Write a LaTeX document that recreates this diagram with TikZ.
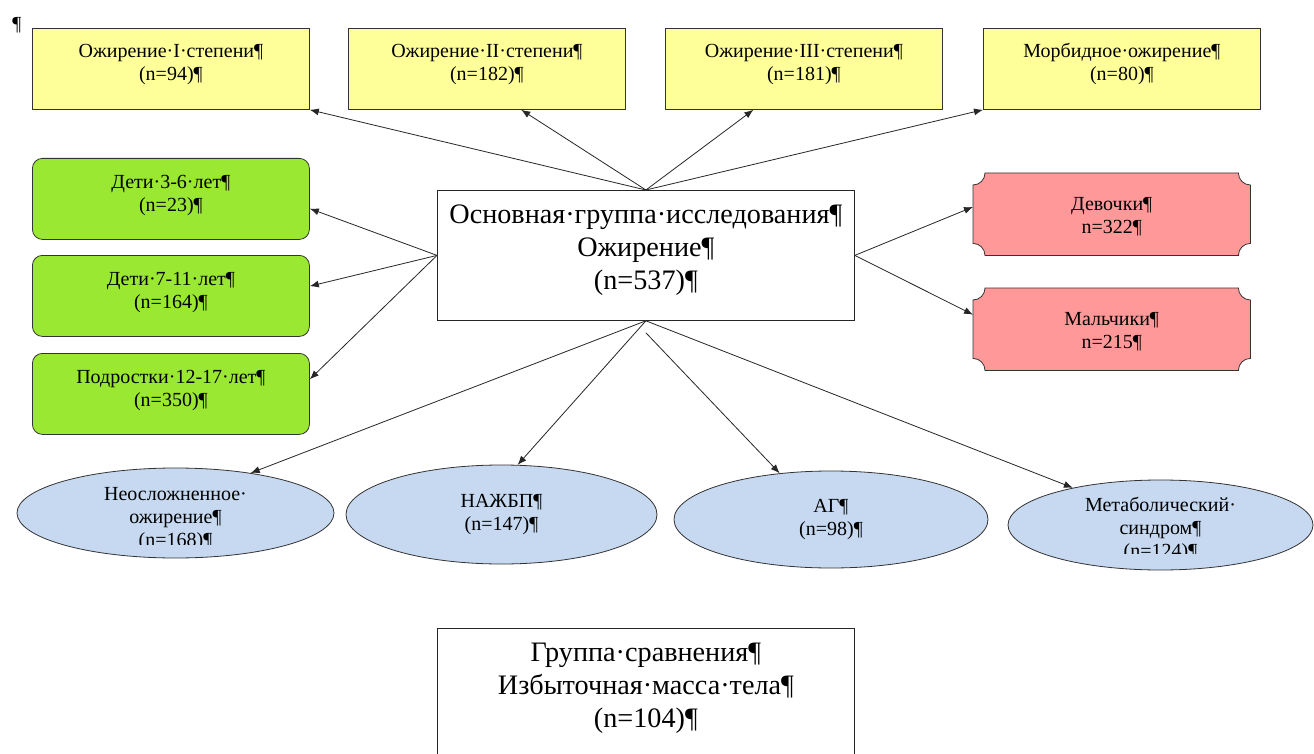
\documentclass[tikz,border=0pt]{standalone}
\usepackage{fontspec}
\setmainfont{Liberation Serif}
\usepackage{tikz}
\usetikzlibrary{arrows.meta, shapes.geometric, backgrounds}

\definecolor{obyellow}{RGB}{255,255,153}
\definecolor{agegreen}{RGB}{155,232,50}
\definecolor{sexpink}{RGB}{255,153,153}
\definecolor{ovalblue}{RGB}{198,217,240}

% lines of a box, hung from the first one
\newcommand{\lines}[1]{\begin{tabular}[t]{@{}c@{}}#1\end{tabular}}

% box with hollow corners, drawn round a node
\newcommand{\plaque}[1]{%
  \filldraw[draw=black!80, fill=sexpink, line width=0.8pt]
    ([xshift=12pt]#1.north west) -- ([xshift=-12pt]#1.north east)
    arc[start angle=180, end angle=270, radius=12pt]
    -- ([yshift=12pt]#1.south east)
    arc[start angle=90, end angle=180, radius=12pt]
    -- ([xshift=12pt]#1.south west)
    arc[start angle=0, end angle=90, radius=12pt]
    -- ([yshift=-12pt]#1.north west)
    arc[start angle=270, end angle=360, radius=12pt] -- cycle;}

\begin{document}
\begin{tikzpicture}
  [x=1pt,y=-1pt,
   every node/.style={font=\fontsize{20}{23}\selectfont},
   ybox/.style={draw=black!80, line width=0.8pt, fill=obyellow, anchor=north west,
     inner sep=0pt, minimum width=277pt, text height=29pt, text depth=52pt},
   gbox/.style={draw=black!80, line width=0.8pt, fill=agegreen, anchor=north west, rounded corners=10pt,
     inner sep=0pt, minimum width=277pt, text height=30pt, text depth=51pt},
   pbox/.style={anchor=north west, inner sep=0pt, minimum width=277pt, text height=37pt, text depth=45pt},
   mainbox/.style={draw=black!85, line width=0.8pt, fill=white, anchor=north west,
     font=\fontsize{28.2}{33}\selectfont, inner sep=0pt, minimum width=417pt, text height=33pt},
   oval/.style={ellipse, draw=black!80, line width=0.8pt, fill=ovalblue, inner sep=0pt, align=center},
   arr/.style={draw=black!85, line width=0.8pt, -{Latex[length=9pt,width=7pt]}}]

  \useasboundingbox (0,0) rectangle (1314,754);

  \node (pil) at (17,25) {¶};

  \node[ybox] (ob1) at (32,28)  {\lines{Ожирение·I·степени¶\\(n=94)¶}};
  \node[ybox] (ob2) at (348,28) {\lines{Ожирение·II·степени¶\\(n=182)¶}};
  \node[ybox] (ob3) at (665,28) {\lines{Ожирение·III·степени¶\\(n=181)¶}};
  \node[ybox] (ob4) at (983,28) {\lines{Морбидное·ожирение¶\\(n=80)¶}};

  \node[gbox] (g1) at (32,158) {\lines{Дети·3-6·лет¶\\(n=23)¶}};
  \node[gbox] (g2) at (32,255) {\lines{Дети·7-11·лет¶\\(n=164)¶}};
  \node[gbox] (g3) at (32,353) {\lines{Подростки·12-17·лет¶\\(n=350)¶}};

  \node[mainbox, text depth=97pt] (c) at (437,190) {\lines{Основная·группа·исследования¶\\Ожирение¶\\(n=537)¶}};
  \node[mainbox, text depth=107pt] (cmp) at (437,628) {\lines{Группа·сравнения¶\\Избыточная·масса·тела¶\\(n=104)¶}};

  \node[pbox] (girls) at (973,173) {\lines{Девочки¶\\n=322¶}};
  \node[pbox] (boys) at (973,288) {\lines{Мальчики¶\\n=215¶}};

  \begin{scope}[on background layer]
    \fill[white] (0,0) rectangle (1314,754);
    \plaque{girls}
    \plaque{boys}
  \end{scope}

  \node[oval, minimum width=317pt, minimum height=90pt,
    path picture={\clip ([yshift=14pt]path picture bounding box.south west) rectangle (path picture bounding box.north east);
      \node[anchor=base] (e1t) at ([yshift=-32pt]path picture bounding box.north) {\lines{Неосложненное·\\ожирение¶\\(n=168)¶}};}]
    (e1) at (175.5,513) {};
  \node[oval, minimum width=311pt, minimum height=99pt] (e2) at (501.5,514.5) {НАЖБП¶\\(n=147)¶};
  \node[oval, minimum width=314pt, minimum height=97pt] (e3) at (831,519.5) {АГ¶\\(n=98)¶};
  \node[oval, minimum width=305pt, minimum height=90pt,
    path picture={\clip ([yshift=17pt]path picture bounding box.south west) rectangle (path picture bounding box.north east);
      \node[anchor=base] (e4t) at ([yshift=-31pt]path picture bounding box.north) {\lines{Метаболический·\\синдром¶\\(n=124)¶}};}]
    (e4) at (1160.5,525) {};

  \coordinate (c3) at ([yshift=-12pt]c.south);

  \foreach \to in {ob1.south east, ob2.-50, ob3.219, ob4.south west}
    \draw[arr] (c.north) -- (\to);
  \foreach \to in {g1.-4, g2.4, g3.6}
    \draw[arr] (c.west) -- (\to);
  \foreach \to in {girls.177, boys.174}
    \draw[arr] (c.east) -- (\to);
  \foreach \from/\to in {c.south/e1.28, c.south/e2.72, c3/e3.138, c.south/e4.157}
    \draw[arr] (\from) -- (\to);

\end{tikzpicture}
\end{document}
